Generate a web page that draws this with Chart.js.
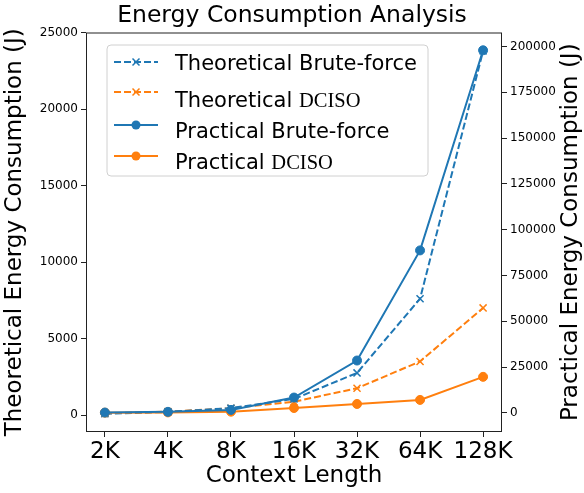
<!DOCTYPE html>
<html>
<head>
<meta charset="utf-8">
<script src="https://cdn.jsdelivr.net/npm/chart.js@4.4.1/dist/chart.umd.min.js"></script>
<style>
  html, body { margin: 0; padding: 0; background: #fff; }
  #wrap { width: 584px; height: 493px; }
</style>
</head>
<body>
<div id="wrap"><canvas id="energy-chart" width="584" height="493"></canvas></div>
<script>
// --- datos ---
const CONTEXT_LABELS = ['2K', '4K', '8K', '16K', '32K', '64K', '128K'];
const THEO_BRUTE = [80, 200, 450, 1050, 2750, 7600, 23800];
const THEO_DCISO = [110, 220, 440, 870, 1750, 3500, 7000];
const PRAC_BRUTE = [200, 600, 1650, 8400, 28600, 88700, 197900];
const PRAC_DCISO = [150, 300, 700, 2700, 4900, 7100, 19700];
const LEFT_TICKS = [0, 5000, 10000, 15000, 20000, 25000];
const RIGHT_TICKS = [0, 25000, 50000, 75000, 100000, 125000, 150000, 175000, 200000];

const BLUE = '#1f77b4';
const ORANGE = '#ff7f0e';
const SANS = "'DejaVu Sans', sans-serif";
const SERIF = "'Liberation Serif', 'DejaVu Serif', serif";

const toPoints = arr => arr.map((v, i) => ({ x: i, y: v }));

function makeSet(label, data, color, axis, dashed) {
    return {
        label,
        data: toPoints(data),
        yAxisID: axis,
        borderColor: color,
        backgroundColor: color,
        borderWidth: 2,
        borderDash: dashed ? [7, 3] : [],
        pointStyle: dashed ? 'crossRot' : 'circle',
        pointRadius: dashed ? 5 : 4.5,
        pointBorderWidth: dashed ? 1.5 : 1,
        pointBorderColor: color,
        pointBackgroundColor: color,
        order: axis === 'y' ? 2 : 1,
        tension: 0
    };
}

// leyenda: [etiqueta, sufijo serif, color, discontinua, y línea, y base texto]
const LEGEND_ROWS = [
    ['Theoretical Brute-force', '', BLUE, true, 62, 70],
    ['Theoretical ', 'DCISO', ORANGE, true, 92, 107],
    ['Practical Brute-force', '', BLUE, false, 125, 138],
    ['Practical ', 'DCISO', ORANGE, false, 156, 169]
];

const legendPlugin = {
    id: 'customLegend',
    afterDraw(chart) {
        const ctx = chart.ctx;
        ctx.save();
        // marco del área
        const a = chart.chartArea;
        ctx.strokeStyle = '#222';
        ctx.lineWidth = 1;
        ctx.strokeRect(a.left + 0.5, a.top + 0.5, a.right - a.left - 1, a.bottom - a.top - 1);

        // caja
        const bx = 107, by = 45, bw = 321, bh = 131, r = 4;
        ctx.beginPath();
        ctx.moveTo(bx + r, by);
        ctx.arcTo(bx + bw, by, bx + bw, by + bh, r);
        ctx.arcTo(bx + bw, by + bh, bx, by + bh, r);
        ctx.arcTo(bx, by + bh, bx, by, r);
        ctx.arcTo(bx, by, bx + bw, by, r);
        ctx.closePath();
        ctx.fillStyle = 'rgba(255,255,255,0.8)';
        ctx.fill();
        ctx.strokeStyle = '#d0d0d0';
        ctx.stroke();

        LEGEND_ROWS.forEach(([txt, serifTxt, color, dashed, ly, base]) => {
            ctx.strokeStyle = color;
            ctx.fillStyle = color;
            ctx.lineWidth = 2;
            ctx.setLineDash(dashed ? [7, 3] : []);
            ctx.beginPath();
            ctx.moveTo(114, ly);
            ctx.lineTo(158, ly);
            ctx.stroke();
            ctx.setLineDash([]);
            if (dashed) {
                ctx.lineWidth = 1.5;
                ctx.beginPath();
                ctx.moveTo(132.5, ly - 3.5); ctx.lineTo(139.5, ly + 3.5);
                ctx.moveTo(139.5, ly - 3.5); ctx.lineTo(132.5, ly + 3.5);
                ctx.stroke();
            } else {
                ctx.beginPath();
                ctx.arc(136, ly, 4.5, 0, Math.PI * 2);
                ctx.fill();
            }
            ctx.fillStyle = '#000';
            ctx.textBaseline = 'alphabetic';
            ctx.textAlign = 'left';
            ctx.font = '21px ' + SANS;
            ctx.fillText(txt, 175, base);
            if (serifTxt) {
                const w = ctx.measureText(txt).width;
                ctx.font = '20.5px ' + SERIF;
                ctx.fillText(serifTxt, 175 + w, base);
            }
        });

        // título eje derecho (leído de abajo hacia arriba)
        ctx.translate(571, (a.top + a.bottom) / 2);
        ctx.rotate(-Math.PI / 2);
        ctx.font = '23px ' + SANS;
        ctx.textAlign = 'center';
        ctx.textBaseline = 'middle';
        ctx.fillText('Practical Energy Consumption (J)', 0, 0);
        ctx.restore();
    }
};

const tickGrid = { drawOnChartArea: false, drawTicks: true, tickLength: 5, color: '#222' };

new Chart(document.getElementById('energy-chart'), {
    type: 'line',
    data: {
        datasets: [
            makeSet('Theoretical Brute-force', THEO_BRUTE, BLUE, 'y', true),
            makeSet('Theoretical DCISO', THEO_DCISO, ORANGE, 'y', true),
            makeSet('Practical Brute-force', PRAC_BRUTE, BLUE, 'y1', false),
            makeSet('Practical DCISO', PRAC_DCISO, ORANGE, 'y1', false)
        ]
    },
    options: {
        responsive: false,
        animation: false,
        layout: { padding: 0 },
        plugins: {
            legend: { display: false },
            tooltip: { enabled: false },
            title: {
                display: true,
                text: 'Energy Consumption Analysis',
                color: '#000',
                font: { family: SANS, size: 23.5, weight: 'normal', lineHeight: 1.2 },
                padding: { top: 2, bottom: 2.3 }
            }
        },
        scales: {
            x: {
                type: 'linear',
                position: 'bottom',
                min: -0.3,
                max: 6.3,
                afterBuildTicks: s => { s.ticks = CONTEXT_LABELS.map((_, i) => ({ value: i })); },
                afterFit: s => { s.height = 61; },
                grid: tickGrid,
                border: { display: false },
                ticks: {
                    autoSkip: false, maxRotation: 0, padding: 1, color: '#000',
                    font: { family: SANS, size: 23 },
                    callback: v => CONTEXT_LABELS[v]
                },
                title: {
                    display: true, text: 'Context Length', color: '#000',
                    font: { family: SANS, size: 23, lineHeight: 1.2 },
                    padding: { top: 0, bottom: 3 }
                }
            },
            y: {
                type: 'linear',
                position: 'left',
                min: -1110,
                max: 25000,
                afterBuildTicks: s => { s.ticks = LEFT_TICKS.map(v => ({ value: v })); },
                afterFit: s => { s.width = 86; },
                grid: tickGrid,
                border: { display: false },
                ticks: { padding: 3, color: '#000', font: { family: SANS, size: 12 }, callback: v => String(v) },
                title: {
                    display: true, text: 'Theoretical Energy Consumption (J)', color: '#000',
                    font: { family: SANS, size: 23, lineHeight: 1.2 },
                    padding: { top: 1, bottom: 0 }
                }
            },
            y1: {
                type: 'linear',
                position: 'right',
                min: -10400,
                max: 207600,
                afterBuildTicks: s => { s.ticks = RIGHT_TICKS.map(v => ({ value: v })); },
                afterFit: s => { s.width = 82; },
                grid: tickGrid,
                border: { display: false },
                ticks: { padding: 3, color: '#000', font: { family: SANS, size: 12 }, callback: v => String(v) }
            }
        }
    },
    plugins: [legendPlugin]
});
</script>
</body>
</html>
